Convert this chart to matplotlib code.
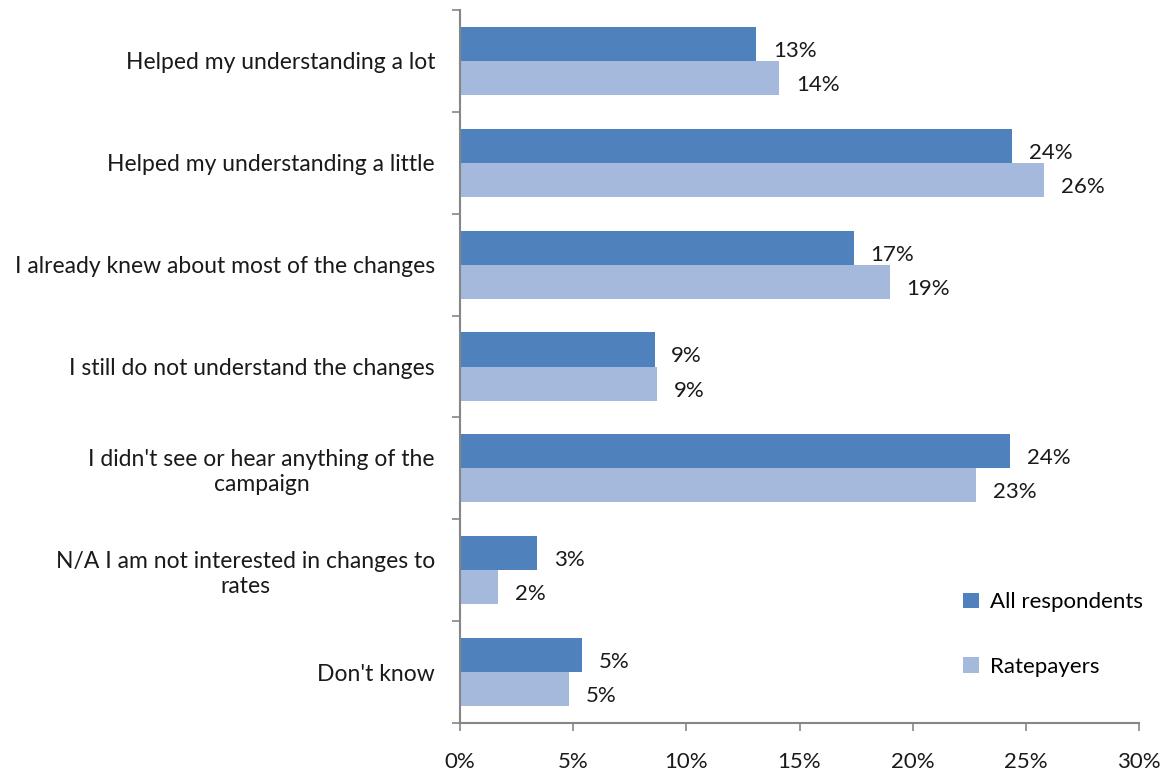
import numpy as np
import matplotlib.pyplot as plt
from matplotlib.ticker import FixedLocator

categories = [
    "Helped my understanding a lot",
    "Helped my understanding a little",
    "I already knew about most of the changes",
    "I still do not understand the changes",
    "I didn't see or hear anything of the\ncampaign",
    "N/A I am not interested in changes to\nrates",
    "Don't know",
]
all_respondents = [13.1, 24.4, 17.4, 8.6, 24.3, 3.4, 5.4]
ratepayers = [14.1, 25.8, 19.0, 8.7, 22.8, 1.7, 4.8]
xticks = [0, 5, 10, 15, 20, 25, 30]

dark = "#4F81BD"
light = "#A4B9DB"
grey = "#868686"

plt.rcParams['font.family'] = ['Lato', 'DejaVu Sans']
fig = plt.figure(figsize=(11.67, 7.76), dpi=100)
ax = fig.add_axes([460 / 1167, 53 / 776, 679 / 1167, 713 / 776])

y = np.arange(len(categories))
h = 0.335
b1 = ax.barh(y - h / 2, all_respondents, height=h, color=dark, label="All respondents")
b2 = ax.barh(y + h / 2, ratepayers, height=h, color=light, label="Ratepayers")

for bars, vals in [(b1, all_respondents), (b2, ratepayers)]:
    for bar, v in zip(bars, vals):
        ax.annotate(f"{v:.0f}%", (v, bar.get_y() + bar.get_height() / 2),
                    xytext=(12, -5), textcoords="offset points",
                    va="center", ha="left", fontsize=16, color="#1a1a1a")

ax.set_xlim(0, 30)
ax.set_ylim(len(categories) - 0.5, -0.5)

ax.set_xticks(xticks)
ax.set_xticklabels([f"{t}%" for t in xticks])
ax.set_yticks(y)
ax.set_yticklabels(categories, multialignment="center")
ax.yaxis.set_minor_locator(FixedLocator(np.arange(-0.5, len(categories), 1)))

ax.tick_params(axis="y", which="major", length=0, pad=18, labelsize=16.5, labelcolor="#1a1a1a")
ax.tick_params(axis="y", which="minor", length=6, width=1.2, color=grey, direction="out")
ax.tick_params(axis="x", length=6, width=1.2, color=grey, direction="out",
               pad=15, labelsize=16, labelcolor="#1a1a1a")

for s in ["top", "right"]:
    ax.spines[s].set_visible(False)
for s in ["left", "bottom"]:
    ax.spines[s].set_color(grey)
    ax.spines[s].set_linewidth(1.5)

ax.legend(loc="lower left", bbox_to_anchor=(0.712, 0.037), frameon=False, fontsize=16,
          handlelength=0.7, handleheight=0.7, handletextpad=0.5, labelspacing=2.0)

fig.savefig("out.png", dpi=100)
